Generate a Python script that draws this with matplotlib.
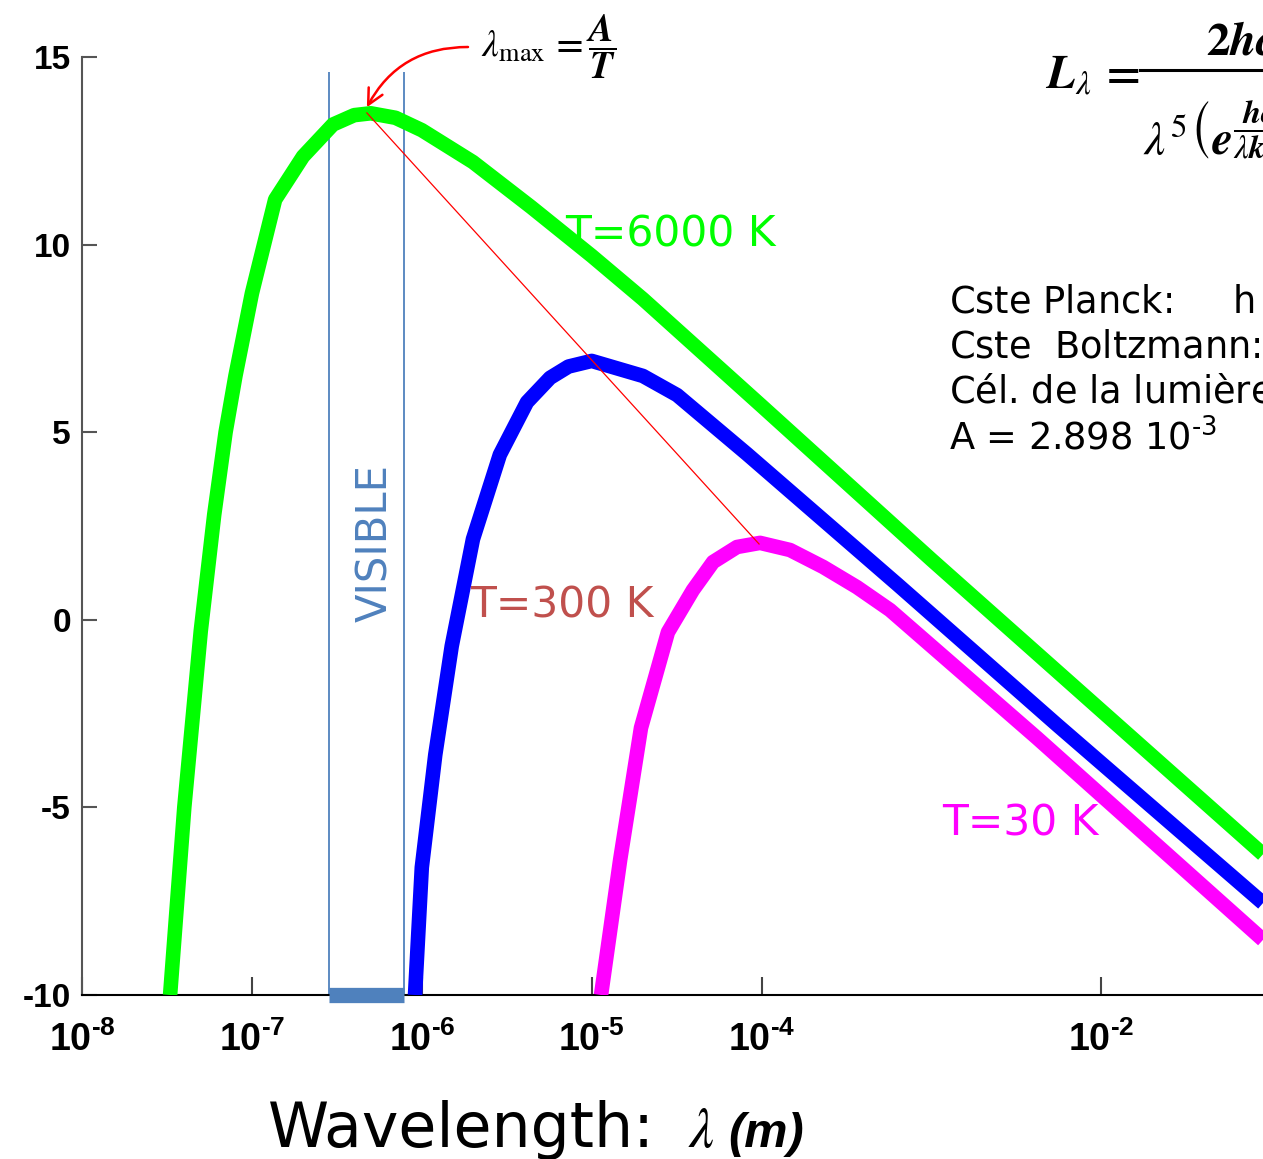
import numpy as np
import matplotlib
matplotlib.use('Agg')
import matplotlib.pyplot as plt
from matplotlib.lines import Line2D
from matplotlib.ticker import NullLocator

W, H = 1263, 1159

# courbes de Planck, log10 de la luminance
lam_6000 = [3.30e-8, 4.0e-8, 5.0e-8, 6.0e-8, 7.0e-8, 8.0e-8, 1.0e-7, 1.37e-7,
            2.0e-7, 3.0e-7, 4.0e-7, 5.0e-7, 7.0e-7, 1.0e-6, 2.0e-6, 4.4e-6,
            1.0e-5, 2.0e-5, 1.0e-4, 1.0e-3, 8.93e-2]
logL_6000 = [-10.0, -5.0, -0.3, 2.8, 5.0, 6.5, 8.7, 11.2,
             12.35, 13.2, 13.45, 13.5, 13.38, 13.05, 12.2, 11.0,
             9.7, 8.55, 5.7, 1.6, -6.25]

lam_300 = [9.12e-7, 1.0e-6, 1.2e-6, 1.5e-6, 2.0e-6, 2.88e-6, 4.16e-6, 5.69e-6,
           7.3e-6, 1.0e-5, 2.0e-5, 3.18e-5, 8.2e-5, 6.35e-4, 5.48e-3, 8.93e-2]
logL_300 = [-10.0, -6.6, -3.6, -0.7, 2.15, 4.4, 5.8, 6.45,
            6.75, 6.9, 6.5, 5.99, 4.42, 0.93, -2.8, -7.55]

lam_30 = [1.135e-5, 1.47e-5, 1.95e-5, 2.81e-5, 3.94e-5, 5.18e-5, 7.16e-5, 9.79e-5,
          1.47e-4, 2.30e-4, 3.64e-4, 5.70e-4, 4.18e-3, 8.93e-2]
logL_30 = [-10.0, -6.40, -2.88, -0.33, 0.79, 1.54, 1.94, 2.05,
           1.86, 1.41, 0.87, 0.26, -3.15, -8.53]

# droite de Wien (pics)
wien_lam = [4.75e-7, 9.66e-5]
wien_logL = [13.51, 2.02]

visible = [2.84e-7, 7.85e-7]

xticks = [1e-8, 1e-7, 1e-6, 1e-5, 1e-4, 1e-2]
xlabels = [r'$10^{‐8}$', r'$10^{‐7}$', r'$10^{‐6}$', r'$10^{‐5}$', r'$10^{‐4}$', r'$10^{‐2}$']
yticks = [15, 10, 5, 0, -5, -10]
ylabels = ['15', '10', '5', '0', '-5', '-10']

plt.rcParams['font.family'] = ['Liberation Sans', 'DejaVu Sans']
plt.rcParams['mathtext.fontset'] = 'custom'
plt.rcParams['mathtext.rm'] = 'Liberation Sans:bold'
plt.rcParams['mathtext.bf'] = 'Liberation Sans:bold'
plt.rcParams['mathtext.it'] = 'Liberation Sans:bold:italic'

fig = plt.figure(figsize=(W / 100, H / 100), dpi=100)
ax = fig.add_axes([82 / W, 1 - 995 / H, 1 - 82 / W, (995 - 57) / H])
ax.set_xscale('log')

ax.plot(lam_6000, logL_6000, color='#00ff00', lw=10.5, solid_capstyle='butt', solid_joinstyle='round', zorder=3)
ax.plot(lam_300, logL_300, color='#0000ff', lw=10.5, solid_capstyle='butt', solid_joinstyle='round', zorder=3)
ax.plot(lam_30, logL_30, color='#ff00ff', lw=10.5, solid_capstyle='butt', solid_joinstyle='round', zorder=3)
ax.plot(wien_lam, wien_logL, color='red', lw=0.9, zorder=4)

# bande du visible
ax.vlines(visible, -10, 14.6, color='#4f81bd', lw=1.3, zorder=2)
ax.hlines(-10, visible[0], visible[1], color='#4f81bd', lw=11, zorder=5, clip_on=False)
ax.text(np.sqrt(visible[0] * visible[1]) * 1.12, 2.05, 'VISIBLE', rotation=90, color='#4f81bd',
        fontsize=30, family='DejaVu Sans', ha='center', va='center')

ax.text(6.97e-6, 9.94, 'T=6000 K', color='#00ff00', fontsize=30.5, family='DejaVu Sans', zorder=6)
ax.text(1.92e-6, 0.07, 'T=300 K', color='#c0504d', fontsize=30.5, family='DejaVu Sans', zorder=6)
ax.text(1.15e-3, -5.76, 'T=30 K', color='#ff00ff', fontsize=30.5, family='DejaVu Sans', zorder=6)

ax.set_xlim(1e-8, 10 ** -1.049)
ax.set_ylim(-10, 15)
ax.set_xticks(xticks, labels=xlabels, fontsize=27)
ax.xaxis.set_minor_locator(NullLocator())
ax.set_yticks(yticks, labels=ylabels, fontsize=24, fontweight='bold')
ax.tick_params(axis='y', direction='in', length=11, width=1.5, color='#555555', pad=8)
ax.tick_params(axis='x', direction='in', length=13, width=1.5, color='#444444', pad=19)
for s in ['top', 'right']:
    ax.spines[s].set_visible(False)
ax.spines['left'].set_color('#555555')
ax.spines['left'].set_linewidth(1.5)
ax.spines['bottom'].set_color('black')
ax.spines['bottom'].set_linewidth(1.5)

# loi de Wien
ax.annotate('', xy=(wien_lam[0], wien_logL[0] + 0.15), xytext=(468 / W, 1 - 47 / H),
            textcoords='figure fraction', annotation_clip=False,
            arrowprops=dict(arrowstyle='->', color='red', lw=1.8, mutation_scale=28,
                            connectionstyle='arc3,rad=0.3', shrinkA=0, shrinkB=0))
fig.text(481 / W, 1 - 56 / H, r'$\lambda_{\mathrm{max}}\,\mathbf{=}\dfrac{\mathbfit{A}}{\mathbfit{T}}$',
         math_fontfamily='stix', fontsize=27, va='baseline', ha='left')

# formule de Planck (coupée à droite comme sur l'original)
fig.text(1045 / W, 1 - 88 / H, r'$\mathbfit{L}_{\lambda}\,\mathbf{=}$',
         math_fontfamily='stix', fontsize=34, va='baseline', ha='left')
fig.add_artist(Line2D([1140 / W, 1.0], [1 - 70 / H, 1 - 70 / H], color='black', lw=2.2))
fig.text(1206 / W, 1 - 55 / H, r'$\mathbf{2}\mathbfit{hc}^{\mathbf{2}}$',
         math_fontfamily='stix', fontsize=34, va='baseline', ha='left')
fig.text(1143 / W, 1 - 154 / H,
         r'$\lambda^{5}\left(\mathbfit{e}^{\dfrac{\mathbfit{hc}}{\lambda \mathbfit{kT}}}\mathbf{-1}\right)$',
         math_fontfamily='stix', fontsize=34, va='baseline', ha='left')

# constantes
consts = ['Cste Planck:     h = 6.626 $10^{‐34}$ J.s',
          'Cste  Boltzmann: k = 1.381 $10^{‐23}$ J/K',
          'Cél. de la lumière: c = 3 $10^{8}$ m/s',
          'A = 2.898 $10^{‐3}$']
for i, line in enumerate(consts):
    fig.text(949 / W, 1 - (315 + 45 * i) / H, line, fontsize=26.5, family='DejaVu Sans',
             math_fontfamily='dejavusans', va='baseline', ha='left')

fig.text(268 / W, 1 - 1147 / H, 'Wavelength:', fontsize=44.5, family='DejaVu Sans',
         va='baseline', ha='left')
fig.text(688 / W, 1 - 1147 / H, r'$\lambda$', fontsize=40, math_fontfamily='stix',
         va='baseline', ha='left')
fig.text(728 / W, 1 - 1147 / H, '(m)', fontsize=35, family='Liberation Sans',
         fontweight='bold', fontstyle='italic', va='baseline', ha='left')

fig.savefig('out.png', dpi=100)
